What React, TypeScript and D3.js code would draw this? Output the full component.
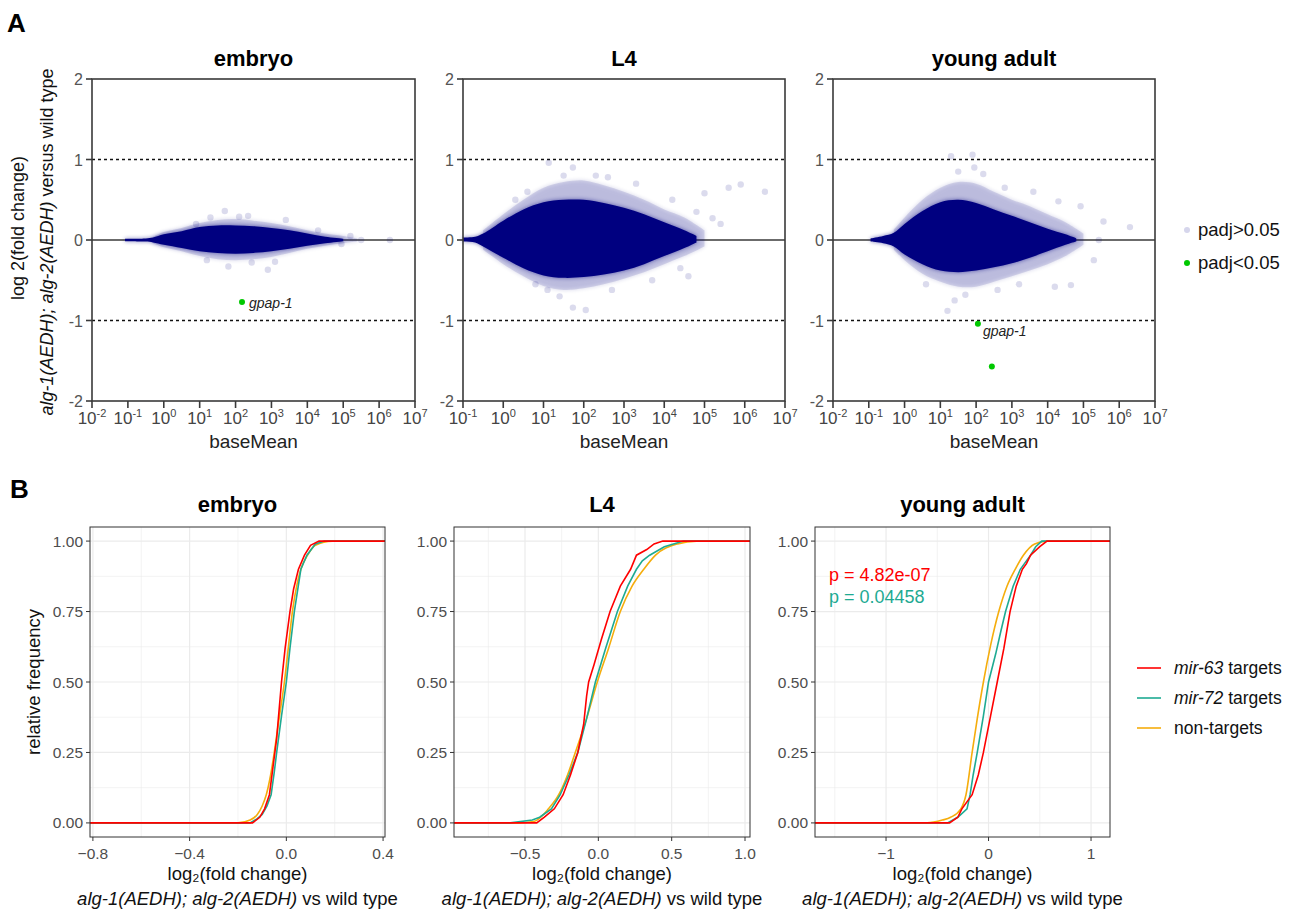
import * as d3 from "d3"
import { useEffect } from "react"

const FONT = "'Liberation Sans', Arial, Helvetica, sans-serif"
const NAVY = "#000080"
const GREEN = "#00c800"
const RED = "#ff0000"
const TEAL = "#1eaa92"
const ORANGE = "#f5ad0c"

// ---- panel A: MA plots, [log10(baseMean), low, high] envelopes of the point cloud ----
const embryoCore = [[-1.08, -0.015, 0.015], [-0.5, -0.02, 0.02], [-0.3, -0.03, 0.03], [0, -0.06, 0.07], [0.5, -0.1, 0.11], [1, -0.14, 0.16], [1.5, -0.16, 0.18], [2, -0.17, 0.18], [2.5, -0.16, 0.17], [3, -0.14, 0.15], [3.5, -0.11, 0.12], [4, -0.07, 0.08], [4.5, -0.04, 0.04], [5, -0.015, 0.015]]
const embryoHalo = [[-0.3, -0.04, 0.04], [0, -0.09, 0.1], [0.5, -0.14, 0.15], [1, -0.2, 0.21], [1.5, -0.24, 0.25], [2, -0.25, 0.26], [2.5, -0.24, 0.24], [3, -0.21, 0.21], [3.5, -0.16, 0.17], [4, -0.11, 0.12], [4.5, -0.07, 0.08], [5, -0.04, 0.05], [5.4, -0.02, 0.02]]
const embryoOut = [[1.7, 0.36], [2.35, 0.3], [1.8, -0.33], [2.9, -0.37], [2.45, -0.28], [1.3, 0.28], [3.4, 0.25], [5.2, 0.05], [5.5, 0.0], [6.3, 0.0], [4.95, -0.05], [1.2, -0.25], [2.1, 0.29], [3.1, -0.27], [4.3, 0.12], [0.9, 0.2]]
const embryoSig = [[2.18, -0.77]]

const l4Core = [[-1.0, -0.02, 0.03], [-0.7, -0.03, 0.04], [-0.5, -0.08, 0.08], [0, -0.22, 0.24], [0.5, -0.35, 0.38], [1, -0.44, 0.47], [1.5, -0.47, 0.5], [2, -0.46, 0.5], [2.5, -0.43, 0.46], [3, -0.38, 0.4], [3.5, -0.3, 0.32], [4, -0.2, 0.22], [4.5, -0.1, 0.12], [4.8, -0.03, 0.05]]
const l4Halo = [[-0.5, -0.12, 0.12], [0, -0.3, 0.32], [0.5, -0.45, 0.5], [1, -0.57, 0.65], [1.5, -0.62, 0.72], [2, -0.6, 0.74], [2.5, -0.55, 0.68], [3, -0.48, 0.6], [3.5, -0.4, 0.5], [4, -0.3, 0.38], [4.5, -0.2, 0.28], [5, -0.08, 0.12]]
const l4Out = [[1.13, 0.96], [1.73, 0.9], [2.3, 0.8], [1.1, -0.62], [1.73, -0.84], [2.05, -0.87], [0.8, -0.55], [2.7, -0.62], [3.3, 0.7], [4.2, 0.5], [4.6, -0.45], [5.0, 0.58], [5.2, 0.27], [5.4, 0.2], [5.6, 0.65], [5.9, 0.69], [6.5, 0.6], [4.8, 0.35], [4.4, -0.35], [0.3, 0.5], [1.5, 0.8], [2.6, 0.78], [1.4, -0.7], [3.7, -0.5], [0.6, 0.6]]
const l4Sig: number[][] = []

const yaCore = [[-0.95, -0.02, 0.02], [-0.6, -0.04, 0.05], [-0.3, -0.08, 0.09], [0, -0.18, 0.2], [0.5, -0.3, 0.36], [1, -0.38, 0.47], [1.5, -0.4, 0.5], [2, -0.38, 0.46], [2.5, -0.34, 0.38], [3, -0.29, 0.3], [3.5, -0.22, 0.22], [4, -0.14, 0.14], [4.5, -0.06, 0.07], [4.8, -0.02, 0.02]]
const yaHalo = [[-0.3, -0.12, 0.13], [0, -0.25, 0.28], [0.5, -0.42, 0.5], [1, -0.52, 0.65], [1.5, -0.58, 0.72], [2, -0.58, 0.7], [2.5, -0.52, 0.6], [3, -0.45, 0.5], [3.5, -0.38, 0.42], [4, -0.3, 0.32], [4.5, -0.2, 0.22], [5, -0.06, 0.08]]
const yaOut = [[1.9, 1.06], [1.3, 1.04], [1.95, 0.9], [1.5, 0.85], [1.2, -0.88], [1.4, -0.75], [4.2, -0.58], [4.65, -0.56], [4.92, 0.42], [5.29, -0.25], [5.56, 0.23], [5.43, 0.0], [6.3, 0.16], [3.6, 0.6], [2.8, 0.65], [2.6, -0.62], [0.6, -0.55], [4.3, 0.48], [2.2, 0.82], [3.2, -0.55], [1.7, -0.68]]
const yaSig = [[2.05, -1.04], [2.44, -1.57]]

const maYTicks = [-2, -1, 0, 1, 2]

// ---- panel B: cumulative distributions, [log2 fold change, fraction] ----
const embMir63 = [[-0.14, 0], [-0.11, 0.02], [-0.09, 0.05], [-0.07, 0.1], [-0.055, 0.2], [-0.04, 0.3], [-0.03, 0.4], [-0.02, 0.5], [-0.005, 0.62], [0.015, 0.75], [0.03, 0.83], [0.05, 0.9], [0.075, 0.95], [0.1, 0.985], [0.135, 1]]
const embMir72 = [[-0.15, 0], [-0.12, 0.015], [-0.1, 0.03], [-0.08, 0.06], [-0.063, 0.1], [-0.05, 0.18], [-0.04, 0.25], [-0.02, 0.38], [0.0, 0.5], [0.015, 0.62], [0.033, 0.75], [0.06, 0.9], [0.085, 0.95], [0.12, 0.99], [0.157, 1]]
const embNon = [[-0.2, 0], [-0.15, 0.01], [-0.12, 0.03], [-0.1, 0.06], [-0.083, 0.1], [-0.065, 0.17], [-0.05, 0.25], [-0.03, 0.37], [-0.008, 0.5], [0.008, 0.62], [0.025, 0.75], [0.045, 0.85], [0.06, 0.9], [0.088, 0.95], [0.12, 0.985], [0.19, 1]]

const l4Mir63 = [[-0.42, 0], [-0.37, 0.02], [-0.3, 0.05], [-0.24, 0.1], [-0.19, 0.17], [-0.14, 0.25], [-0.1, 0.35], [-0.08, 0.45], [-0.066, 0.5], [-0.03, 0.56], [0.02, 0.65], [0.08, 0.75], [0.15, 0.84], [0.22, 0.9], [0.26, 0.95], [0.33, 0.97], [0.38, 0.99], [0.44, 1]]
const l4Mir72 = [[-0.6, 0], [-0.45, 0.01], [-0.4, 0.02], [-0.32, 0.05], [-0.26, 0.1], [-0.2, 0.17], [-0.14, 0.25], [-0.08, 0.37], [-0.02, 0.5], [0.05, 0.62], [0.13, 0.75], [0.2, 0.84], [0.26, 0.9], [0.3, 0.93], [0.35, 0.95], [0.45, 0.98], [0.58, 1]]
const l4Non = [[-0.55, 0], [-0.44, 0.005], [-0.34, 0.05], [-0.27, 0.1], [-0.21, 0.17], [-0.157, 0.25], [-0.08, 0.37], [-0.007, 0.5], [0.07, 0.62], [0.15, 0.75], [0.23, 0.84], [0.31, 0.9], [0.39, 0.95], [0.54, 0.99], [0.67, 1]]

const yaMir63 = [[-0.38, 0], [-0.3, 0.02], [-0.26, 0.05], [-0.16, 0.1], [-0.1, 0.17], [-0.05, 0.25], [0.02, 0.38], [0.085, 0.5], [0.15, 0.62], [0.21, 0.75], [0.27, 0.84], [0.33, 0.9], [0.37, 0.92], [0.41, 0.95], [0.5, 0.98], [0.57, 1]]
const yaMir72 = [[-0.4, 0], [-0.3, 0.02], [-0.21, 0.05], [-0.18, 0.1], [-0.15, 0.17], [-0.11, 0.25], [-0.05, 0.38], [0.0, 0.5], [0.07, 0.6], [0.12, 0.68], [0.166, 0.75], [0.24, 0.84], [0.31, 0.9], [0.35, 0.92], [0.41, 0.95], [0.46, 0.98], [0.52, 1]]
const yaNon = [[-0.6, 0], [-0.45, 0.01], [-0.37, 0.02], [-0.27, 0.05], [-0.22, 0.1], [-0.16, 0.25], [-0.11, 0.37], [-0.05, 0.5], [0.02, 0.63], [0.1, 0.75], [0.18, 0.84], [0.26, 0.9], [0.34, 0.95], [0.45, 0.99], [0.57, 1]]

const cdfYTicks = [0, 0.25, 0.5, 0.75, 1]
const cdfYMinor = [0.125, 0.375, 0.625, 0.875]
const pValues = ["p = 4.82e-07", "p = 0.04458"]

const MA_TOP = 79
const MA_BOTTOM = 401

const MAPanel = ({ left, right, logMin, title, core, halo, outliers, sig, sigLabel }) => {
    const x = d3.scaleLog().domain([10 ** logMin, 1e7]).range([left, right])
    const y = d3.scaleLinear().domain([-2, 2]).range([MA_BOTTOM, MA_TOP])
    const area = d3.area()
        .x(d => x(10 ** d[0]))
        .y0(d => y(d[1]))
        .y1(d => y(d[2]))
        .curve(d3.curveCatmullRom)
    const decades = d3.range(logMin, 8)
    const axis = "#3a3a3a"
    return (
        <g>
            <text x={(left + right) / 2} y={66} textAnchor="middle" fontWeight="bold" fontSize={22}>{title}</text>
            <line x1={left} x2={right} y1={y(1)} y2={y(1)} stroke="#111" strokeWidth={1.4} strokeDasharray="3,3" />
            <line x1={left} x2={right} y1={y(-1)} y2={y(-1)} stroke="#111" strokeWidth={1.4} strokeDasharray="3,3" />
            <line x1={left} x2={right} y1={y(0)} y2={y(0)} stroke={axis} strokeWidth={1.4} />
            <path d={area(halo)} fill={NAVY} opacity={0.16} filter="url(#soft)" />
            <path d={area(halo)} fill={NAVY} opacity={0.12} />
            <path d={area(core)} fill={NAVY} opacity={0.55} filter="url(#soft)" />
            <path d={area(core)} fill={NAVY} />
            {outliers.map((d, i) => (
                <circle key={i} cx={x(10 ** d[0])} cy={y(d[1])} r={3.2} fill={NAVY} opacity={0.14} />
            ))}
            {sig.map((d, i) => (
                <circle key={i} cx={x(10 ** d[0])} cy={y(d[1])} r={3} fill={GREEN} />
            ))}
            {sigLabel && (
                <text x={x(10 ** sig[0][0]) + sigLabel.dx} y={y(sig[0][1]) + sigLabel.dy} fontSize={14} fontStyle="italic" fill="#222">{sigLabel.text}</text>
            )}
            <rect x={left} y={MA_TOP} width={right - left} height={MA_BOTTOM - MA_TOP} fill="none" stroke={axis} strokeWidth={1.6} />
            {maYTicks.map(t => (
                <g key={t}>
                    <line x1={left - 6} x2={left} y1={y(t)} y2={y(t)} stroke={axis} strokeWidth={1.6} />
                    <text x={left - 9} y={y(t) + 6} textAnchor="end" fontSize={16} fill="#555">{t}</text>
                </g>
            ))}
            {decades.map(p => (
                <g key={p}>
                    <line x1={x(10 ** p)} x2={x(10 ** p)} y1={MA_BOTTOM} y2={MA_BOTTOM + 7} stroke={axis} strokeWidth={1.6} />
                    <text x={x(10 ** p)} y={424} textAnchor="middle" fontSize={17} fill="#444">
                        10<tspan dy={-7} fontSize={11}>{p}</tspan>
                    </text>
                </g>
            ))}
            <text x={(left + right) / 2} y={448} textAnchor="middle" fontSize={19} fill="#222">baseMean</text>
        </g>
    )
}

const CDF_TOP = 527
const CDF_BOTTOM = 837

const CDFPanel = ({ left, right, domain, majors, minors, labels, title, series, showY, pText }) => {
    const x = d3.scaleLinear().domain(domain).range([left, right])
    const y = d3.scaleLinear().domain([-0.05, 1.05]).range([CDF_BOTTOM, CDF_TOP])
    const grid = "#ebebeb"
    return (
        <g>
            <text x={(left + right) / 2} y={512} textAnchor="middle" fontWeight="bold" fontSize={22}>{title}</text>
            {minors.map(v => <line key={"mx" + v} x1={x(v)} x2={x(v)} y1={CDF_TOP} y2={CDF_BOTTOM} stroke={grid} strokeWidth={0.6} />)}
            {cdfYMinor.map(v => <line key={"my" + v} x1={left} x2={right} y1={y(v)} y2={y(v)} stroke={grid} strokeWidth={0.6} />)}
            {majors.map(v => <line key={"Mx" + v} x1={x(v)} x2={x(v)} y1={CDF_TOP} y2={CDF_BOTTOM} stroke={grid} strokeWidth={1.2} />)}
            {cdfYTicks.map(v => <line key={"My" + v} x1={left} x2={right} y1={y(v)} y2={y(v)} stroke={grid} strokeWidth={1.2} />)}
            <defs>
                <clipPath id={"clip" + left}>
                    <rect x={left} y={CDF_TOP} width={right - left} height={CDF_BOTTOM - CDF_TOP} />
                </clipPath>
            </defs>
            <g clipPath={`url(#clip${left})`}>
                {series.map((s, i) => {
                    const pts = [[domain[0] - 1, 0], ...s.data, [domain[1] + 1, 1]]
                    const line = d3.line().x(d => x(d[0])).y(d => y(d[1])).curve(s.smooth ? d3.curveMonotoneX : d3.curveLinear)
                    return <path key={i} d={line(pts)} fill="none" stroke={s.color} strokeWidth={1.6} />
                })}
            </g>
            {pText && pText.map((p, i) => (
                <text key={i} x={left + 14} y={581 + i * 22} fontSize={18} fill={p.color}>{p.text}</text>
            ))}
            <rect x={left} y={CDF_TOP} width={right - left} height={CDF_BOTTOM - CDF_TOP} fill="none" stroke="#333" strokeWidth={1} />
            {cdfYTicks.map(v => (
                <g key={v}>
                    <line x1={left - 4} x2={left} y1={y(v)} y2={y(v)} stroke="#333" />
                    <text x={left - 7} y={y(v) + 5.5} textAnchor="end" fontSize={15.5} fill="#4d4d4d">{v.toFixed(2)}</text>
                </g>
            ))}
            {majors.map((v, i) => (
                <g key={v}>
                    <line x1={x(v)} x2={x(v)} y1={CDF_BOTTOM} y2={CDF_BOTTOM + 4} stroke="#333" />
                    <text x={x(v)} y={859} textAnchor="middle" fontSize={15.5} fill="#4d4d4d">{labels[i]}</text>
                </g>
            ))}
            <text x={(left + right) / 2} y={880} textAnchor="middle" fontSize={18.5} fill="#111">log₂(fold change)</text>
            <text x={(left + right) / 2} y={905} textAnchor="middle" fontSize={18.5} fill="#111">
                <tspan fontStyle="italic">alg-1(AEDH); alg-2(AEDH)</tspan> vs wild type
            </text>
            {showY && (
                <text transform={`translate(40,${(CDF_TOP + CDF_BOTTOM) / 2}) rotate(-90)`} textAnchor="middle" fontSize={18.5} fill="#111">relative frequency</text>
            )}
        </g>
    )
}

const App = () => {
    useEffect(() => {
        document.body.style.margin = "0"
    }, [])

    const cdfSeries = (m63, m72, non) => [
        { data: non, color: ORANGE, smooth: true },
        { data: m72, color: TEAL, smooth: false },
        { data: m63, color: RED, smooth: false },
    ]

    return (
        <svg width={1300} height={911} style={{ display: "block", fontFamily: FONT, background: "#fff" }}>
            <defs>
                <filter id="soft" x="-10%" y="-30%" width="120%" height="160%">
                    <feGaussianBlur stdDeviation="2.2" />
                </filter>
            </defs>
            <text x={7} y={32} fontSize={26} fontWeight="bold">A</text>
            <text x={10} y={498} fontSize={26} fontWeight="bold">B</text>

            <text transform="translate(24,228) rotate(-90)" textAnchor="middle" fontSize={18} fill="#111">log 2(fold change)</text>
            <text transform="translate(53,242) rotate(-90)" textAnchor="middle" fontSize={18} fill="#111">
                <tspan fontStyle="italic">alg-1(AEDH); alg-2(AEDH)</tspan> versus wild type
            </text>

            <MAPanel left={92} right={415} logMin={-2} title="embryo" core={embryoCore} halo={embryoHalo}
                outliers={embryoOut} sig={embryoSig} sigLabel={{ text: "gpap-1", dx: 7, dy: 6 }} />
            <MAPanel left={463} right={785} logMin={-1} title="L4" core={l4Core} halo={l4Halo}
                outliers={l4Out} sig={l4Sig} sigLabel={null} />
            <MAPanel left={833} right={1155} logMin={-2} title="young adult" core={yaCore} halo={yaHalo}
                outliers={yaOut} sig={yaSig} sigLabel={{ text: "gpap-1", dx: 5, dy: 12 }} />

            <circle cx={1187} cy={230} r={3} fill="#d6d6ec" />
            <text x={1198} y={236} fontSize={18.5} fill="#111">padj&gt;0.05</text>
            <circle cx={1187} cy={263} r={3} fill={GREEN} />
            <text x={1198} y={269} fontSize={18.5} fill="#111">padj&lt;0.05</text>

            <CDFPanel left={90} right={385} domain={[-0.812, 0.408]} majors={[-0.8, -0.4, 0, 0.4]} minors={[-0.6, -0.2, 0.2]}
                labels={["−0.8", "−0.4", "0.0", "0.4"]} title="embryo" series={cdfSeries(embMir63, embMir72, embNon)} showY pText={null} />
            <CDFPanel left={454} right={750} domain={[-0.984, 1.034]} majors={[-0.5, 0, 0.5, 1]} minors={[-0.75, -0.25, 0.25, 0.75]}
                labels={["−0.5", "0.0", "0.5", "1.0"]} title="L4" series={cdfSeries(l4Mir63, l4Mir72, l4Non)} showY={false} pText={null} />
            <CDFPanel left={815} right={1110} domain={[-1.693, 1.185]} majors={[-1, 0, 1]} minors={[-1.5, -0.5, 0.5]}
                labels={["−1", "0", "1"]} title="young adult" series={cdfSeries(yaMir63, yaMir72, yaNon)} showY={false}
                pText={[{ text: pValues[0], color: RED }, { text: pValues[1], color: TEAL }]} />

            {[
                { color: RED, it: "mir-63", rest: " targets" },
                { color: TEAL, it: "mir-72", rest: " targets" },
                { color: ORANGE, it: "", rest: "non-targets" },
            ].map((d, i) => (
                <g key={i}>
                    <line x1={1137} x2={1161} y1={668 + i * 30} y2={668 + i * 30} stroke={d.color} strokeWidth={1.6} />
                    <text x={1174} y={674 + i * 30} fontSize={17.5} fill="#111">
                        <tspan fontStyle="italic">{d.it}</tspan>{d.rest}
                    </text>
                </g>
            ))}
        </svg>
    )
}

export default App
